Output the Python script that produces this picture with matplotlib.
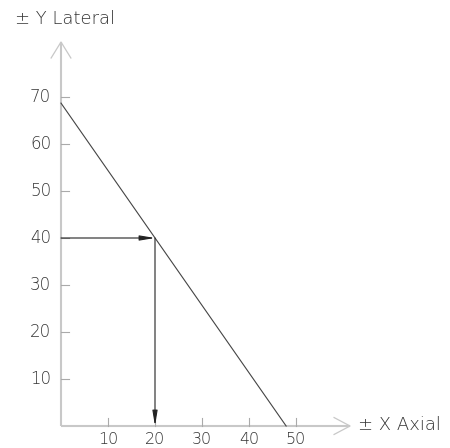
import matplotlib
matplotlib.use("Agg")
import matplotlib.pyplot as plt

# values
x_ticks = [10, 20, 30, 40, 50]
y_ticks = [10, 20, 30, 40, 50, 60, 70]
line_x = [0, 47.9]
line_y = [68.7, 0]
read_x = 20
read_y = 40
x_label = "± X Axial"
y_label = "± Y Lateral"

axis_col = "#c8c8c8"
ink = "#444444"
txt = "#333333"

fig = plt.figure(figsize=(4.5, 4.48), dpi=100)
ax = fig.add_axes([0, 0, 1, 1])
ax.set_xlim(-61 / 4.7, (450 - 61) / 4.7)
ax.set_ylim(-22 / 4.7, (448 - 22) / 4.7)
ax.axis("off")

# axes with open arrow heads
x_end, y_end = 61.5, 81.7
ax.plot([0, x_end], [0, 0], color=axis_col, lw=1.5, solid_capstyle="butt")
ax.plot([0, 0], [0, y_end], color=axis_col, lw=1.5, solid_capstyle="butt")
ax.plot([x_end - 3.4, x_end, x_end - 3.4], [1.8, 0, -1.8], color=axis_col, lw=0.9)
ax.plot([-2.1, 0, 2.1], [y_end - 3.4, y_end, y_end - 3.4], color=axis_col, lw=0.9)

# ticks
for t in x_ticks:
    ax.plot([t, t], [0, 1.7], color="#aaaaaa", lw=0.8)
    ax.text(t, -3.75, str(t), ha="center", va="baseline", fontsize=11.5,
            color=txt, fontweight="light")
for t in y_ticks:
    ax.plot([0, 1.7], [t, t], color="#aaaaaa", lw=0.8)
    ax.text(-2.1, t, str(t), ha="right", va="center", fontsize=12,
            color=txt, fontweight="light")

ax.text(63.2, 0.3, x_label, ha="left", va="center", fontsize=13,
        color=txt, fontweight="light")
ax.text(-9.8, 86.6, y_label, ha="left", va="center", fontsize=13,
        color=txt, fontweight="light")

# main line
ax.plot(line_x, line_y, color=ink, lw=0.8)

# reading arrows
arrow = dict(arrowstyle="-|>,head_length=0.9,head_width=0.15",
             color="#222222", lw=0.8, mutation_scale=10,
             shrinkA=0, shrinkB=0)
ax.annotate("", xy=(read_x, read_y), xytext=(0, read_y), arrowprops=arrow)
ax.annotate("", xy=(read_x, 0), xytext=(read_x, read_y), arrowprops=arrow)

fig.savefig("out.png", dpi=100)
